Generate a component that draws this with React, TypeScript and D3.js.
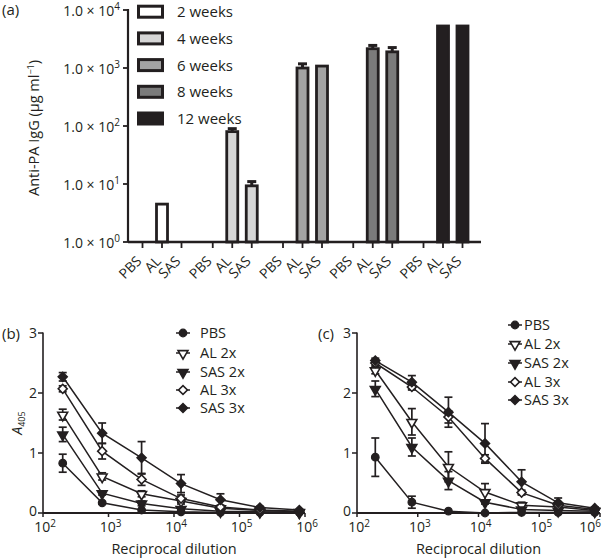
import React from "react";
import * as d3 from "d3";

// ---------- Panel (a) data ----------
const weekLabels = ["2 weeks", "4 weeks", "6 weeks", "8 weeks", "12 weeks"];
const vaccineGroups = ["PBS", "AL", "SAS"];
const week2 = [1, 4.5, 1];
const week4 = [1, 80, 9.3];
const week6 = [1, 1000, 1080];
const week8 = [1, 2150, 1900];
const week12 = [1, 5300, 5300];
const week2Err = [1, 4.5, 1];
const week4Err = [1, 90, 11];
const week6Err = [1, 1180, 1100];
const week8Err = [1, 2450, 2250];
const week12Err = [1, 5300, 5300];
const weekFills = ["#ffffff", "#d6d6d6", "#a3a3a3", "#7b7b7b", "#231f20"];
const iggTicks = [1, 10, 100, 1000, 10000];

// ---------- Panels (b), (c) data ----------
const dilutions = [200, 800, 3200, 12800, 51200, 204800, 819200];
const seriesNames = ["PBS", "AL 2x", "SAS 2x", "AL 3x", "SAS 3x"];
const dilutionTicks = [1e2, 1e3, 1e4, 1e5, 1e6];
const a405Ticks = [0, 1, 2, 3];

const bPBS = [0.83, 0.17, 0.05, 0.02, 0.01, 0.01, 0.01];
const bPBSErr = [0.15, 0.02, 0.01, 0, 0, 0, 0];
const bAL2 = [1.64, 0.61, 0.32, 0.2, 0.08, 0.04, 0.02];
const bAL2Err = [0.09, 0.06, 0.05, 0.05, 0.02, 0, 0];
const bSAS2 = [1.31, 0.33, 0.16, 0.07, 0.03, 0.02, 0.01];
const bSAS2Err = [0.12, 0.03, 0.04, 0.02, 0, 0, 0];
const bAL3 = [2.07, 1.03, 0.56, 0.24, 0.1, 0.05, 0.03];
const bAL3Err = [0.05, 0.13, 0.1, 0.06, 0.03, 0, 0];
const bSAS3 = [2.27, 1.33, 0.92, 0.49, 0.22, 0.09, 0.05];
const bSAS3Err = [0.07, 0.17, 0.27, 0.15, 0.1, 0.02, 0];

const cPBS = [0.93, 0.18, 0.03, 0.0, 0.01, 0.01, 0.01];
const cPBSErr = [0.32, 0.1, 0, 0, 0, 0, 0];
const cAL2 = [2.38, 1.52, 0.77, 0.35, 0.13, 0.1, 0.04];
const cAL2Err = [0.06, 0.22, 0.25, 0.14, 0.05, 0.03, 0];
const cSAS2 = [2.07, 1.1, 0.54, 0.18, 0.06, 0.04, 0.03];
const cSAS2Err = [0.13, 0.15, 0.15, 0.03, 0.02, 0, 0];
const cAL3 = [2.5, 2.1, 1.6, 0.91, 0.34, 0.13, 0.06];
const cAL3Err = [0.04, 0.05, 0.1, 0.06, 0.04, 0.02, 0];
const cSAS3 = [2.54, 2.18, 1.68, 1.16, 0.52, 0.17, 0.08];
const cSAS3Err = [0.04, 0.11, 0.25, 0.33, 0.2, 0.08, 0.02];

const FONT = "'Open Sans', 'Noto Sans', sans-serif";

type Marker = { shape: "circle" | "tri" | "diamond"; filled: boolean };
const markers: Marker[] = [
  { shape: "circle", filled: true },
  { shape: "tri", filled: false },
  { shape: "tri", filled: true },
  { shape: "diamond", filled: false },
  { shape: "diamond", filled: true },
];

function MarkerGlyph({ m, x, y }: { m: Marker; x: number; y: number }) {
  const fill = m.filled ? "#231f20" : "#fff";
  if (m.shape === "circle") {
    return <circle cx={x} cy={y} r={3.8} fill={fill} stroke="#231f20" strokeWidth={1.2} />;
  }
  if (m.shape === "tri") {
    const p = d3.symbol().type(d3.symbolTriangle).size(42)() as string;
    return (
      <path d={p} transform={`translate(${x},${y + 0.5}) rotate(180)`} fill={fill} stroke="#231f20" strokeWidth={1.6} />
    );
  }
  const p = d3.symbol().type(d3.symbolSquare).size(40)() as string;
  return <path d={p} transform={`translate(${x},${y}) rotate(45)`} fill={fill} stroke="#231f20" strokeWidth={1.6} />;
}

function Pow({ base, exp, size, supSize }: { base: string; exp: string; size: number; supSize: number }) {
  return (
    <>
      <tspan fontSize={size}>{base}</tspan>
      <tspan fontSize={supSize} dy={-size * 0.38}>
        {exp}
      </tspan>
    </>
  );
}

function DilutionPanel({
  x0,
  x1,
  label,
  labelX,
  values,
  errors,
  legendX,
  legendYs,
  legendGap,
  showYTitle,
}: {
  x0: number;
  x1: number;
  label: string;
  labelX: number;
  values: number[][];
  errors: number[][];
  legendX: number;
  legendYs: number[];
  legendGap: number;
  showYTitle: boolean;
}) {
  const x = d3.scaleLog().domain([1e2, 1e6]).range([x0, x1]);
  const y = d3.scaleLinear().domain([0, 3]).range([513, 333]);
  const line = d3
    .line<number>()
    .x((_, i) => x(dilutions[i]))
    .y((v) => y(v));
  const cap = 4;
  return (
    <g fontFamily={FONT} fill="#231f20">
      <text x={labelX} y={339} fontSize={15}>
        {label}
      </text>
      {/* axes */}
      <line x1={x0} x2={x0} y1={y(3) - 0.5} y2={y(0)} stroke="#231f20" strokeWidth={1.6} />
      <line x1={x0} x2={x1} y1={y(0)} y2={y(0)} stroke="#231f20" strokeWidth={2} />
      {a405Ticks.map((t) => (
        <g key={t}>
          <line x1={x0 - 5} x2={x0} y1={y(t)} y2={y(t)} stroke="#231f20" strokeWidth={1.5} />
          <text x={x0 - 6} y={y(t) + (t === 0 ? 2.5 : 5)} fontSize={14} textAnchor="end">
            {t}
          </text>
        </g>
      ))}
      {dilutionTicks.map((t) => (
        <g key={t}>
          <line x1={x(t)} x2={x(t)} y1={y(0)} y2={y(0) + 4} stroke="#231f20" strokeWidth={1.5} />
          <text x={Math.min(x(t) + 2, 590)} y={y(0) + 19} textAnchor="middle">
            <Pow base="10" exp={String(Math.round(Math.log10(t)))} size={14} supSize={10} />
          </text>
        </g>
      ))}
      <text x={(x0 + x1) / 2} y={554} fontSize={14.5} textAnchor="middle">
        Reciprocal dilution
      </text>
      {showYTitle && (
        <text transform={`translate(22,${y(1.5)}) rotate(-90)`} textAnchor="middle" fontSize={14}>
          <tspan fontStyle="italic">A</tspan>
          <tspan fontSize={9} dy={3}>
            405
          </tspan>
        </text>
      )}
      {/* lines */}
      {values.map((s, k) => (
        <path key={"l" + k} d={line(s) as string} fill="none" stroke="#231f20" strokeWidth={1.5} />
      ))}
      {/* error bars */}
      {values.map((s, k) =>
        s.map((v, i) => {
          const e = errors[k][i];
          if (e <= 0.015) return null;
          const xi = x(dilutions[i]);
          return (
            <g key={"e" + k + "-" + i} stroke="#231f20" strokeWidth={1.7}>
              <line x1={xi} x2={xi} y1={y(v + e)} y2={y(Math.max(0, v - e))} />
              <line x1={xi - cap} x2={xi + cap} y1={y(v + e)} y2={y(v + e)} />
              <line x1={xi - cap} x2={xi + cap} y1={y(Math.max(0, v - e))} y2={y(Math.max(0, v - e))} />
            </g>
          );
        })
      )}
      {/* markers */}
      {values.map((s, k) =>
        s.map((v, i) => <MarkerGlyph key={"m" + k + "-" + i} m={markers[k]} x={x(dilutions[i])} y={y(v)} />)
      )}
      {/* legend */}
      {seriesNames.map((n, k) => (
        <g key={"lg" + k}>
          <line x1={legendX} x2={legendX + 14} y1={legendYs[k]} y2={legendYs[k]} stroke="#231f20" strokeWidth={1.5} />
          <MarkerGlyph m={markers[k]} x={legendX + 7} y={legendYs[k]} />
          <text x={legendX + 14 + legendGap} y={legendYs[k] + 5} fontSize={14.5}>
            {n}
          </text>
        </g>
      ))}
    </g>
  );
}

export default function App() {
  const weekValues = [week2, week4, week6, week8, week12];
  const weekErrs = [week2Err, week4Err, week6Err, week8Err, week12Err];

  const yA = d3.scaleLog().domain([1, 1e4]).range([242, 10]);
  const xGroup = d3.scalePoint<string>().domain(weekLabels).range([162, 443]);
  const xInner = d3.scalePoint<string>().domain(vaccineGroups).range([-19.5, 19.5]);
  const barW = 11;
  const axisLeft = 128;
  const axisRight = 481;

  return (
    <svg width={602} height={560} style={{ position: "absolute", left: 0, top: 0, background: "#fff" }}>
      <rect x={0} y={0} width={602} height={560} fill="#fff" />
      <g fontFamily={FONT} fill="#231f20">
        <text x={2} y={15} fontSize={15}>
          (a)
        </text>
        {/* y title */}
        <text transform={`translate(39,${(yA(1) + yA(1e4)) / 2 + 2}) rotate(-90)`} textAnchor="middle" fontSize={14.5}>
          Anti-PA IgG (μg ml
          <tspan fontSize={9} dy={-5}>
            −1
          </tspan>
          <tspan dy={5}>)</tspan>
        </text>
        {/* y ticks */}
        {iggTicks.map((t) => (
          <g key={t}>
            <line x1={axisLeft - 5} x2={axisLeft} y1={yA(t)} y2={yA(t)} stroke="#231f20" strokeWidth={1.8} />
            <text x={120} y={yA(t) + 5.5} textAnchor="end">
              <tspan fontSize={14}>1.0 × </tspan>
              <Pow base="10" exp={String(Math.round(Math.log10(t)))} size={14} supSize={10} />
            </text>
          </g>
        ))}
        {/* bars */}
        {weekLabels.map((w, g) =>
          vaccineGroups.map((v, i) => {
            const cx = (xGroup(w) as number) + (xInner(v) as number);
            const val = weekValues[g][i];
            const top = yA(val);
            const errTop = yA(weekErrs[g][i]);
            return (
              <g key={w + v}>
                {weekErrs[g][i] > val * 1.02 && (
                  <g stroke="#231f20" strokeWidth={3}>
                    <line x1={cx} x2={cx} y1={errTop} y2={top} />
                    <line x1={cx - 4.5} x2={cx + 4.5} y1={errTop} y2={errTop} />
                  </g>
                )}
                <rect
                  x={cx - barW / 2}
                  y={top}
                  width={barW}
                  height={Math.max(0, yA(1) - top)}
                  fill={weekFills[g]}
                  stroke="#231f20"
                  strokeWidth={2.8}
                />
              </g>
            );
          })
        )}
        {/* axes */}
        <line x1={axisLeft} x2={axisLeft} y1={yA(1e4) - 1} y2={yA(1)} stroke="#231f20" strokeWidth={2.2} />
        <line x1={axisLeft} x2={axisRight} y1={yA(1)} y2={yA(1)} stroke="#231f20" strokeWidth={2.6} />
        {weekLabels.map((w) =>
          vaccineGroups.map((v) => {
            const cx = (xGroup(w) as number) + (xInner(v) as number);
            return (
              <g key={"t" + w + v}>
                <line x1={cx} x2={cx} y1={yA(1)} y2={yA(1) + 6} stroke="#231f20" strokeWidth={1.8} />
                <text transform={`translate(${cx},262) rotate(-45)`} textAnchor="end" fontSize={14}>
                  {v}
                </text>
              </g>
            );
          })
        )}
        {/* legend */}
        {weekLabels.map((w, g) => {
          const cy = 11.7 + g * 26.7;
          return (
            <g key={"leg" + w}>
              <rect x={138.5} y={cy - 5.5} width={24} height={11} fill={weekFills[g]} stroke="#231f20" strokeWidth={3} />
              <text x={177} y={cy + 5.5} fontSize={15}>
                {w}
              </text>
            </g>
          );
        })}
      </g>

      <DilutionPanel
        x0={43}
        x1={305}
        label="(b)"
        labelX={2}
        values={[bPBS, bAL2, bSAS2, bAL3, bSAS3]}
        errors={[bPBSErr, bAL2Err, bSAS2Err, bAL3Err, bSAS3Err]}
        legendX={176}
        legendYs={[333, 353, 372, 390, 408]}
        legendGap={10}
        showYTitle={true}
      />
      <DilutionPanel
        x0={357}
        x1={600}
        label="(c)"
        labelX={318}
        values={[cPBS, cAL2, cSAS2, cAL3, cSAS3]}
        errors={[cPBSErr, cAL2Err, cSAS2Err, cAL3Err, cSAS3Err]}
        legendX={508}
        legendYs={[325, 344, 363, 382, 400]}
        legendGap={2}
        showYTitle={false}
      />
    </svg>
  );
}
